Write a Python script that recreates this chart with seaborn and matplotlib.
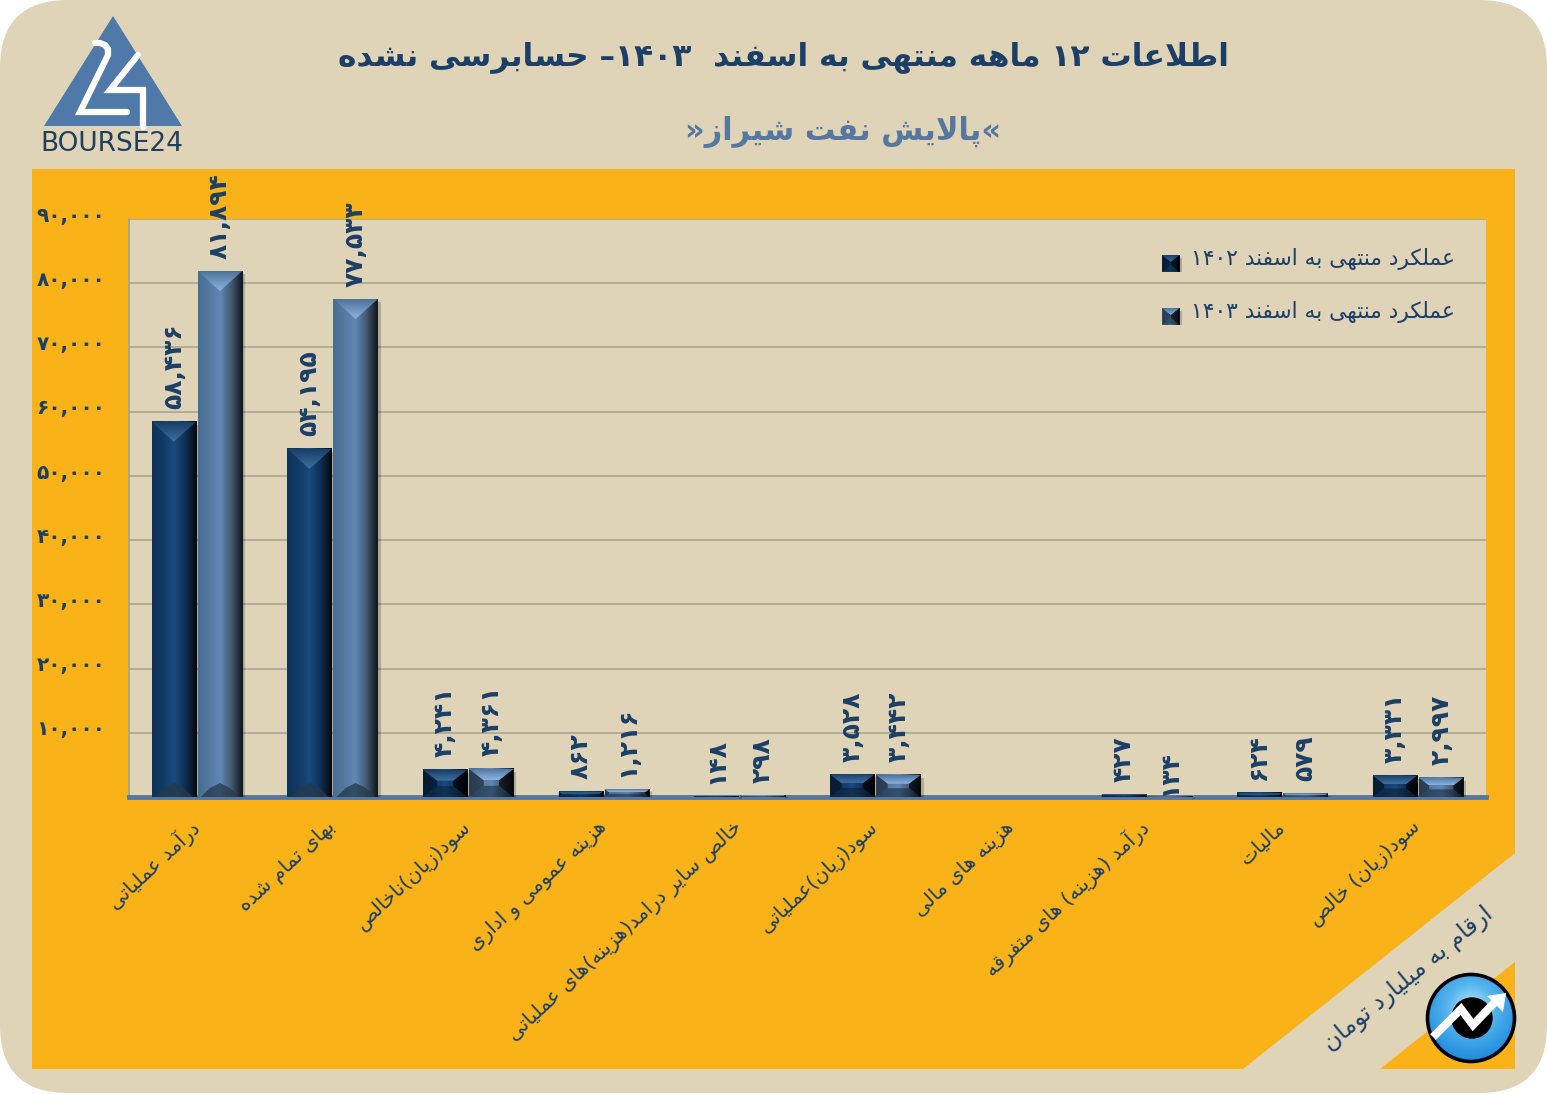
# ======================================================
# 12 MONTH RESULTS CHART - SHIRAZ REFINERY
# ======================================================

# Import Libraries
import re
import pandas as pd
import numpy as np
import seaborn as sns
import matplotlib.pyplot as plt

from matplotlib.colors import LinearSegmentedColormap
from matplotlib.patches import Circle, FancyBboxPatch, Polygon, Rectangle
from matplotlib.transforms import ScaledTranslation

# ======================================================
# Chart Values
# ======================================================

items = [
    "درآمد عملیاتی", "بهای تمام شده", "سود(زیان)ناخالص", "هزینه عمومی و اداری",
    "خالص سایر درامد(هزینه)های عملیاتی", "سود(زیان)عملیاتی", "هزینه های مالی",
    "درآمد (هزینه) های متفرقه", "مالیات", "سود(زیان) خالص"
]

values_1402 = [58436, 54195, 4241, 862, 148, 3528, 0, 427, 624, 3331]
values_1403 = [81894, 77533, 4361, 1216, 298, 3442, 0, 134, 579, 2997]

labels_1402 = ["۵۸,۴۳۶", "۵۴,۱۹۵", "۴,۲۴۱", "۸۶۲", "۱۴۸", "۳,۵۲۸", "", "۴۲۷", "۶۲۴", "۳,۳۳۱"]
labels_1403 = ["۸۱,۸۹۴", "۷۷,۵۳۳", "۴,۳۶۱", "۱,۲۱۶", "۲۹۸", "۳,۴۴۲", "", "۱۳۴", "۵۷۹", "۲,۹۹۷"]

y_ticks = [10000, 20000, 30000, 40000, 50000, 60000, 70000, 80000, 90000]
y_tick_labels = ["۱۰,۰۰۰", "۲۰,۰۰۰", "۳۰,۰۰۰", "۴۰,۰۰۰", "۵۰,۰۰۰", "۶۰,۰۰۰", "۷۰,۰۰۰", "۸۰,۰۰۰", "۹۰,۰۰۰"]

period_1402 = "عملکرد منتهی به اسفند ۱۴۰۲"
period_1403 = "عملکرد منتهی به اسفند ۱۴۰۳"

title_text = "اطلاعات ۱۲ ماهه منتهی به اسفند  ۱۴۰۳– حسابرسی نشده"
subtitle_text = "«پالایش نفت شیراز»"
unit_text = "ارقام به میلیارد تومان"

BEIGE = "#dfd3b8"
ORANGE = "#f9b218"
NAVY = "#1b3f66"
STEEL = "#56789f"

# ======================================================
# Persian Text (matplotlib does no shaping of its own)
# ======================================================

# first code point of the isolated/final/initial/medial run of each letter
FORMS = {
    "ا": 0xFE8D, "آ": 0xFE81, "د": 0xFEA9, "ذ": 0xFEAB, "ر": 0xFEAD, "ز": 0xFEAF,
    "ژ": 0xFB8A, "و": 0xFEED,
    "ب": 0xFE8F, "پ": 0xFB56, "ت": 0xFE95, "ث": 0xFE99, "ج": 0xFE9D, "چ": 0xFB7A,
    "ح": 0xFEA1, "خ": 0xFEA5, "س": 0xFEB1, "ش": 0xFEB5, "ص": 0xFEB9, "ض": 0xFEBD,
    "ط": 0xFEC1, "ظ": 0xFEC5, "ع": 0xFEC9, "غ": 0xFECD, "ف": 0xFED1, "ق": 0xFED5,
    "ک": 0xFB8E, "گ": 0xFB92, "ل": 0xFEDD, "م": 0xFEE1, "ن": 0xFEE5, "ه": 0xFEE9,
    "ی": 0xFBFC
}
RIGHT_ONLY = "اآدذرزژو"
MIRROR = str.maketrans("()", ")(")


def shape(text):
    out = []
    i = 0
    while i < len(text):
        ch = text[i]
        if ch not in FORMS:
            out.append(ch)
            i += 1
            continue
        before = i > 0 and text[i-1] in FORMS and text[i-1] not in RIGHT_ONLY
        if ch == "ل" and text[i+1:i+2] == "ا":  # lam-alef
            out.append("\ufefc" if before else "\ufefb")
            i += 2
            continue
        after = ch not in RIGHT_ONLY and text[i+1:i+2] in FORMS and text[i+1:i+2] != ""
        form = {(False, False): 0, (True, False): 1, (False, True): 2, (True, True): 3}[(before, after)]
        out.append(chr(FORMS[ch] + form))
        i += 1
    visual = "".join(out)[::-1].translate(MIRROR)
    # digits keep their left to right order
    return re.sub(r"[۰-۹,]+", lambda m: m.group(0)[::-1], visual)


df = pd.DataFrame({
    "item": [shape(t) for t in items] * 2,
    "value": values_1402 + values_1403,
    "period": [shape(period_1402)] * len(items) + [shape(period_1403)] * len(items)
})

# ======================================================
# Figure
# ======================================================

sns.set_theme(style="whitegrid")
plt.rcParams["font.family"] = ["DejaVu Sans"]

fig = plt.figure(figsize=(15.47, 10.94), dpi=100, facecolor="white")

# background and panels, in pixels
back = fig.add_axes([0, 0, 1, 1], zorder=0)
back.set_xlim(0, 1547)
back.set_ylim(1094, 0)
back.axis("off")

back.add_patch(FancyBboxPatch((68, 68), 1411, 957, boxstyle="round,pad=68,rounding_size=68",
                              facecolor=BEIGE, edgecolor="none"))
back.add_patch(Polygon([(32, 169), (1515, 169), (1515, 853), (1243, 1069), (32, 1069)], color=ORANGE, lw=0))
back.add_patch(Polygon([(1515, 962), (1515, 1069), (1380, 1069)], color=ORANGE, lw=0))

back.text(783, 57, shape(title_text), color=NAVY, fontsize=22.5, fontweight="bold", ha="center", va="center")
back.text(843, 132, shape(subtitle_text), color=STEEL, fontsize=22, fontweight="bold", ha="center", va="center")
back.text(1408, 979, shape(unit_text), color=NAVY, fontsize=17, rotation=39.5, ha="center", va="center",
          rotation_mode="anchor")

# logo
back.add_patch(Polygon([(113, 16), (44, 126), (182, 126)], color="#4f79a8", lw=0))
back.plot([95, 100, 105, 108, 108, 80, 127], [43, 43, 45, 49, 55, 112, 112], color="white", lw=4.5,
          solid_joinstyle="miter")
back.plot([138, 110, 143, 143], [55, 90, 90, 127], color="white", lw=4.5, solid_joinstyle="miter")
back.text(112, 144, "BOURSE24", color="#1f3f5c", fontsize=19, ha="center", va="center")

# ======================================================
# Bars
# ======================================================

plt.axes([129/1547, 297/1094, 1357/1547, 578/1094], zorder=1, facecolor=BEIGE)
ax = plt.gca()

sns.barplot(
    data=df,
    x="item",
    y="value",
    hue="period",
    palette=["#123a66", "#56789f"],
    saturation=1,
    width=0.68,
    gap=0.04,
    linewidth=0,
    ax=ax
)

plt.xlim(-0.5, 9.5)
plt.ylim(0, 90000)
plt.xlabel("")
plt.ylabel("")
plt.yticks(y_ticks, y_tick_labels, color=NAVY, fontsize=14.5, fontweight="bold")
plt.xticks(rotation=43, ha="right", va="center", rotation_mode="anchor", color=NAVY, fontsize=14.5)
ax.tick_params(axis="y", length=0, pad=17)
ax.tick_params(axis="x", length=0, pad=20)
ax.grid(axis="y", color="#a3a290", linewidth=1.1)
ax.grid(axis="x", visible=False)
ax.set_axisbelow(True)

# the y labels sit a little above their lines
for label in ax.get_yticklabels():
    label.set_transform(label.get_transform() + ScaledTranslation(0, 3.5/72, fig.dpi_scale_trans))

for side in ["top", "right"]:
    ax.spines[side].set_visible(False)
ax.spines["left"].set_color("#a3a290")
ax.spines["bottom"].set_color(STEEL)
ax.spines["bottom"].set_linewidth(3.5)

texts_1402 = ax.bar_label(ax.containers[0], labels=labels_1402, rotation=90, padding=9,
                          color=NAVY, fontsize=18, fontweight="bold")
texts_1403 = ax.bar_label(ax.containers[1], labels=labels_1403, rotation=90, padding=9,
                          color=NAVY, fontsize=18, fontweight="bold")
texts_1403[7].xyann = (0, 0)  # this one sits right on the axis

plt.legend(
    loc="upper left",
    bbox_to_anchor=(0.747, 0.983),
    frameon=False,
    fontsize=15.7,
    labelcolor=NAVY,
    handlelength=0.78,
    handleheight=0.78,
    handletextpad=0.55,
    labelspacing=1.42
)

# markers hang a little below the text
handles = ax.get_legend().get_patches()
for handle in handles:
    handle.set_y(handle.get_y() - 4)

# ======================================================
# Bevel on the bars, in pixels on top of the chart
# ======================================================

fig.canvas.draw()

front = fig.add_axes([0, 0, 1, 1], zorder=2)
front.patch.set_alpha(0)
front.axis("off")

dark_stops = ["#0f3358", "#123a66", "#1a4a7e", "#0f2f52", "#03090f"]
light_stops = ["#486c92", "#56799f", "#6087b6", "#42586f", "#10171e"]


def bevel(box, stops, cap_stops):
    x0, x1 = box.x0, box.x1
    top, bottom = 1094 - box.y1, 1094 - box.y0
    h = bottom - top
    if h < 0.5:
        return
    w = x1 - x0
    cx = (x0 + x1) / 2
    d = min(20, h * 0.4)
    inset = min(d * 1.3, w / 2)
    front.add_patch(Rectangle((x1, top + 3), 3, h - 3, color="black", alpha=0.2, lw=0, zorder=2))
    front.imshow(np.linspace(0, 1, 64)[None, :], cmap=LinearSegmentedColormap.from_list("side", stops),
                 extent=(x0, x1, bottom, top), aspect="auto", zorder=3, interpolation="bilinear")
    if h < 40:
        front.add_patch(Polygon([(x0, top), (x0 + inset, top + d), (x0 + inset, bottom - d), (x0, bottom)],
                                color="black", alpha=0.45, lw=0, zorder=4))
        front.add_patch(Polygon([(x1, top), (x1 - inset, top + d), (x1 - inset, bottom - d), (x1, bottom)],
                                color="black", alpha=0.7, lw=0, zorder=4))
        front.add_patch(Polygon([(x0, bottom), (x1, bottom), (x1 - inset, bottom - d), (x0 + inset, bottom - d)],
                                color="#0a1b2d", alpha=0.5, lw=0, zorder=4))
    else:
        front.add_patch(Polygon([(x0 + 3, bottom), (x1 - 3, bottom), (x1 - 12, bottom - 9), (cx, bottom - 14),
                                 (x0 + 12, bottom - 9)], color="#26384c", alpha=0.75, lw=0, zorder=4))
    cap = Polygon([(x0, top), (x1, top), (x1 - inset, top + d), (x0 + inset, top + d)],
                  transform=front.transData, color="none")
    image = front.imshow(np.linspace(0, 1, 32)[:, None], cmap=LinearSegmentedColormap.from_list("cap", cap_stops),
                         extent=(x0, x1, top + d, top), aspect="auto", zorder=5, interpolation="bilinear")
    front.add_patch(cap)
    image.set_clip_path(cap)


for patch in ax.containers[0]:
    bevel(patch.get_window_extent(), dark_stops, ["#173f69", "#3f6f9f"])
for patch in ax.containers[1]:
    bevel(patch.get_window_extent(), light_stops, ["#4f7399", "#8cb2e2"])

bevel(handles[0].get_window_extent(), dark_stops, ["#173f69", "#3f6f9f"])
bevel(handles[1].get_window_extent(), light_stops, ["#4f7399", "#8cb2e2"])

# ======================================================
# Badge, bottom right
# ======================================================

yy, xx = np.mgrid[-1:1:256j, -1:1:256j]
rings = np.hypot(xx, yy + 0.25)
badge_map = LinearSegmentedColormap.from_list("badge", ["#b5e6fa", "#55b5ec", "#2a94e0", "#1470c4"])
badge = front.imshow(rings, cmap=badge_map, extent=(1427, 1515, 1062, 974), aspect="auto", zorder=6)
ring = Circle((1471, 1018), 43.5, facecolor="none", edgecolor="black", linewidth=2.6, zorder=7)
front.add_patch(ring)
badge.set_clip_path(ring)
front.add_patch(Circle((1472, 1018), 20, color="black", zorder=8))
front.plot([1433, 1461, 1473, 1496], [1037, 1009, 1025, 1001], color="white", lw=5.8, zorder=9,
           solid_joinstyle="miter", solid_capstyle="butt")
front.add_patch(Polygon([(1487, 996), (1506, 993), (1503, 1012)], color="white", lw=0, zorder=9))

front.set_xlim(0, 1547)
front.set_ylim(1094, 0)

plt.savefig("out.png", dpi=100)
